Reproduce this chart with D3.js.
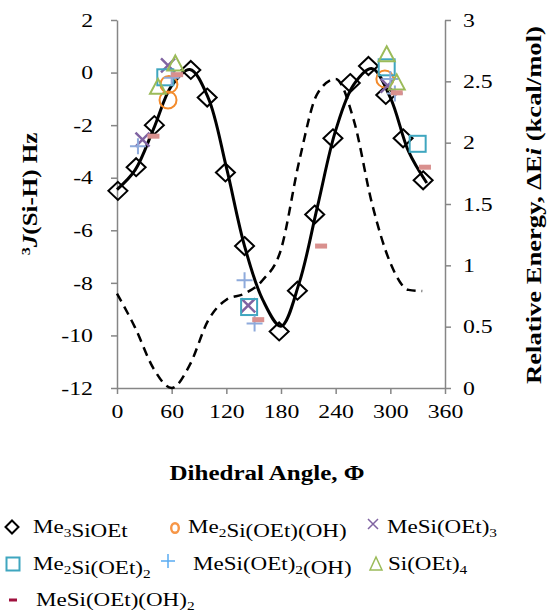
<!DOCTYPE html>
<html>
<head>
<meta charset="utf-8">
<script src="https://cdn.jsdelivr.net/npm/d3@7"></script>
<style>
  body { margin: 0; background: #fff; }
  svg text { font-family: "Liberation Serif", "Times New Roman", serif; fill: #000; }
</style>
</head>
<body>
<div id="chart"></div>
<script>
// Me3SiOEt measured couplings (diamonds)
var meAngle = [1, 21, 41, 81, 99, 119, 140, 178, 198, 217, 237, 256, 276, 295, 314, 336];
var meJ = [-4.5, -3.6, -2.0, 0.1, -0.95, -3.8, -6.6, -9.85, -8.3, -5.4, -2.5, -0.4, 0.25, -0.85, -2.5, -4.1];

// fitted curve for Me3SiOEt (solid line)
var fitAngle = [0, 20, 40, 60, 80, 100, 120, 140, 160, 180, 200, 220, 240, 260, 280, 300, 320, 340];
var fitJ = [-4.45, -3.7, -2.15, -0.5, 0.12, -0.95, -3.6, -6.6, -8.65, -9.65, -8.0, -5.1, -2.2, -0.45, 0.15, -0.95, -3.0, -4.2];

// relative energy (dashed line, right axis)
var eAngle = [0, 20, 40, 60, 80, 100, 120, 140, 160, 180, 200, 220, 240, 260, 280, 300, 320, 335];
var energy = [0.77, 0.49, 0.16, 0.0, 0.19, 0.55, 0.72, 0.77, 0.88, 1.13, 1.85, 2.4, 2.52, 2.18, 1.5, 1.02, 0.8, 0.79];

// other silanes
var circAngle = [56, 57, 294];
var circJ = [-1.04, -0.45, -0.24];
var sqAngle = [53, 296, 145, 330];
var sqJ = [-0.18, 0.2, -8.92, -2.71];
var xAngle = [28, 56, 144, 297];
var xJ = [-2.55, 0.27, -8.86, -0.5];
var plusAngle = [23, 60, 140, 151, 300, 305];
var plusJ = [-2.8, -0.2, -7.9, -9.55, -0.24, -0.8];
var triAngle = [45, 64, 296, 307];
var triJ = [-0.62, 0.27, 0.62, -0.45];
var dashAngle = [40, 66, 155, 224, 307, 338];
var dashJ = [-2.42, -0.08, -9.4, -6.6, -0.77, -3.6];

// tick labels
var xTicks = [0, 60, 120, 180, 240, 300, 360];
var leftTicks = [-12, -10, -8, -6, -4, -2, 0, 2];
var rightTicks = [0, 0.5, 1, 1.5, 2, 2.5, 3];

var W = 547, H = 615;
var svg = d3.select("#chart").append("svg")
    .attr("width", W).attr("height", H);

var x = d3.scaleLinear().domain([0, 360]).range([117, 445]);
var yL = d3.scaleLinear().domain([-12, 2]).range([388, 20]);
var yR = d3.scaleLinear().domain([0, 3]).range([388, 20]);

var axisGrey = "#868686";
var sx = 1.25; // the serif text in the picture is drawn wide
var plain = function(d) { return String(d); };

function styleAxis(g) {
  g.select(".domain").attr("stroke", axisGrey).attr("stroke-width", 1.5);
  g.selectAll(".tick line").attr("stroke", axisGrey).attr("stroke-width", 1.5);
  g.selectAll(".tick text").attr("font-size", 19).attr("fill", "#000");
}

// bottom axis
var gx = svg.append("g").attr("transform", "translate(0,388)")
  .call(d3.axisBottom(x).tickValues(xTicks).tickFormat(plain).tickSize(6).tickSizeOuter(0));
styleAxis(gx);
gx.selectAll(".tick text").attr("y", null).attr("dy", null)
  .attr("transform", "translate(0,30) scale(" + sx + ",1)");

// left axis
var gl = svg.append("g").attr("transform", "translate(117,0)")
  .call(d3.axisLeft(yL).tickValues(leftTicks).tickFormat(plain).tickSize(6).tickSizeOuter(0));
styleAxis(gl);
gl.selectAll(".tick text").attr("x", null).attr("dy", "0.33em")
  .attr("transform", "translate(-24,0) scale(" + sx + ",1)");

// right axis
var gr = svg.append("g").attr("transform", "translate(445,0)")
  .call(d3.axisRight(yR).tickValues(rightTicks).tickFormat(plain).tickSize(6).tickSizeOuter(0));
styleAxis(gr);
gr.selectAll(".tick text").attr("x", null).attr("dy", "0.33em")
  .attr("transform", "translate(18,0) scale(" + sx + ",1)");

// axis titles
svg.append("text")
  .attr("transform", "translate(267,480) scale(" + sx + ",1)")
  .attr("text-anchor", "middle").attr("font-size", 20).attr("font-weight", "bold")
  .text("Dihedral Angle, \u03A6");

var lt = svg.append("text")
  .attr("transform", "translate(37,194) rotate(-90) scale(" + sx + ",1)")
  .attr("text-anchor", "middle").attr("font-size", 20).attr("font-weight", "bold");
lt.append("tspan").attr("font-size", 13).attr("dy", -7).text("3");
lt.append("tspan").attr("font-style", "italic").attr("dy", 7).text("J");
lt.append("tspan").text("(Si-H) Hz");

var rt = svg.append("text")
  .attr("transform", "translate(541,205) rotate(-90) scale(1.33,1)")
  .attr("text-anchor", "middle").attr("font-size", 20).attr("font-weight", "bold");
rt.append("tspan").text("Relative Energy, \u0394E");
rt.append("tspan").attr("font-style", "italic").text("i");
rt.append("tspan").text(" (kcal/mol)");

// dashed energy curve
var eLine = d3.line()
  .x(function(d, i) { return x(eAngle[i]); })
  .y(function(d) { return yR(d); })
  .curve(d3.curveMonotoneX);
svg.append("path").datum(energy)
  .attr("d", eLine).attr("fill", "none")
  .attr("stroke", "#000").attr("stroke-width", 2.5)
  .attr("stroke-dasharray", "9,6");

// solid fit
var fLine = d3.line()
  .x(function(d, i) { return x(fitAngle[i]); })
  .y(function(d) { return yL(d); })
  .curve(d3.curveCatmullRom.alpha(0.5));
svg.append("path").datum(fitJ)
  .attr("d", fLine).attr("fill", "none")
  .attr("stroke", "#000").attr("stroke-width", 3);

// marker shapes
function drawMarkers(angles, vals, draw) {
  var g = svg.append("g");
  angles.forEach(function(a, i) {
    draw(g.append("g").attr("transform", "translate(" + x(a) + "," + yL(vals[i]) + ")"));
  });
}
function diamond(g) {
  g.append("path").attr("d", "M0,-9L9.5,0L0,9L-9.5,0Z")
    .attr("fill", "none").attr("stroke", "#000").attr("stroke-width", 2);
}
function circle(g) {
  g.append("circle").attr("r", 8.5).attr("fill", "none")
    .attr("stroke", "#F38B2C").attr("stroke-width", 2);
}
function square(g) {
  g.append("rect").attr("x", -8).attr("y", -8).attr("width", 16).attr("height", 16)
    .attr("fill", "none").attr("stroke", "#3FA6BF").attr("stroke-width", 2);
}
function cross(g) {
  g.append("path").attr("d", "M-7,-7L7,7M-7,7L7,-7")
    .attr("stroke", "#8064A2").attr("stroke-width", 2.5);
}
function plus(g) {
  g.append("path").attr("d", "M-8,0L8,0M0,-8L0,8")
    .attr("stroke", "#8EAADB").attr("stroke-width", 2);
}
function tri(g) {
  g.append("path").attr("d", "M0,-10L8,5L-8,5Z")
    .attr("fill", "none").attr("stroke", "#9BBB59").attr("stroke-width", 2);
}
function dash(g) {
  g.append("rect").attr("x", -6).attr("y", -2.5).attr("width", 12).attr("height", 5)
    .attr("fill", "#D9908E");
}

drawMarkers(meAngle, meJ, diamond);
drawMarkers(circAngle, circJ, circle);
drawMarkers(xAngle, xJ, cross);
drawMarkers(sqAngle, sqJ, square);
drawMarkers(plusAngle, plusJ, plus);
drawMarkers(triAngle, triJ, tri);
drawMarkers(dashAngle, dashJ, dash);

// legend
var legNames = ["Me_3SiOEt", "Me_2Si(OEt)(OH)", "MeSi(OEt)_3",
                "Me_2Si(OEt)_2", "MeSi(OEt)_2(OH)", "Si(OEt)_4",
                "MeSi(OEt)(OH)_2"];
var legTextX = [33, 188, 387, 33, 193, 388, 36];
var legRowY = [527, 527, 527, 564, 564, 564, 600];
var legSymX = [12, 175, 373, 13, 168, 376, 13];

function richText(t, str) {
  str.split(/(_\d)/).forEach(function(p) {
    if (!p) return;
    if (p[0] === "_") {
      t.append("tspan").attr("font-size", 12).attr("dy", 4).text(p.slice(1));
      t.append("tspan").attr("dy", -4).text("");
    } else {
      t.append("tspan").text(p);
    }
  });
}

legNames.forEach(function(n, i) {
  var t = svg.append("text")
    .attr("transform", "translate(" + legTextX[i] + "," + (legRowY[i] + 6) + ") scale(1.28,1)")
    .attr("font-size", 18);
  richText(t, n);
});

var ls = svg.append("g");
// diamond
ls.append("path").attr("transform", "translate(" + legSymX[0] + "," + legRowY[0] + ")")
  .attr("d", "M0,-6.5L6.5,0L0,6.5L-6.5,0Z").attr("fill", "none")
  .attr("stroke", "#000").attr("stroke-width", 2);
// o
ls.append("ellipse").attr("cx", legSymX[1]).attr("cy", legRowY[1] + 1)
  .attr("rx", 3.8).attr("ry", 4.8).attr("fill", "none")
  .attr("stroke", "#F79646").attr("stroke-width", 2.4);
// x
ls.append("path").attr("transform", "translate(" + legSymX[2] + "," + (legRowY[2] - 3) + ")")
  .attr("d", "M-5,-5L5,5M-5,5L5,-5").attr("stroke", "#8064A2").attr("stroke-width", 1.5);
// square
ls.append("rect").attr("x", legSymX[3] - 6.5).attr("y", legRowY[3] - 6.5)
  .attr("width", 13).attr("height", 13).attr("fill", "none")
  .attr("stroke", "#3FA6BF").attr("stroke-width", 2);
// plus
ls.append("path").attr("transform", "translate(" + legSymX[4] + "," + (legRowY[4] - 3) + ")")
  .attr("d", "M-7,0L7,0M0,-7L0,7").attr("stroke", "#5AACF2").attr("stroke-width", 1.5);
// triangle
ls.append("path").attr("transform", "translate(" + legSymX[5] + "," + legRowY[5] + ")")
  .attr("d", "M0,-7L6,6L-6,6Z").attr("fill", "none")
  .attr("stroke", "#9BBB59").attr("stroke-width", 1.5);
// dash
ls.append("rect").attr("x", legSymX[6] - 4).attr("y", legRowY[6] - 1.5)
  .attr("width", 8).attr("height", 3).attr("fill", "#A0103E");
</script>
</body>
</html>
